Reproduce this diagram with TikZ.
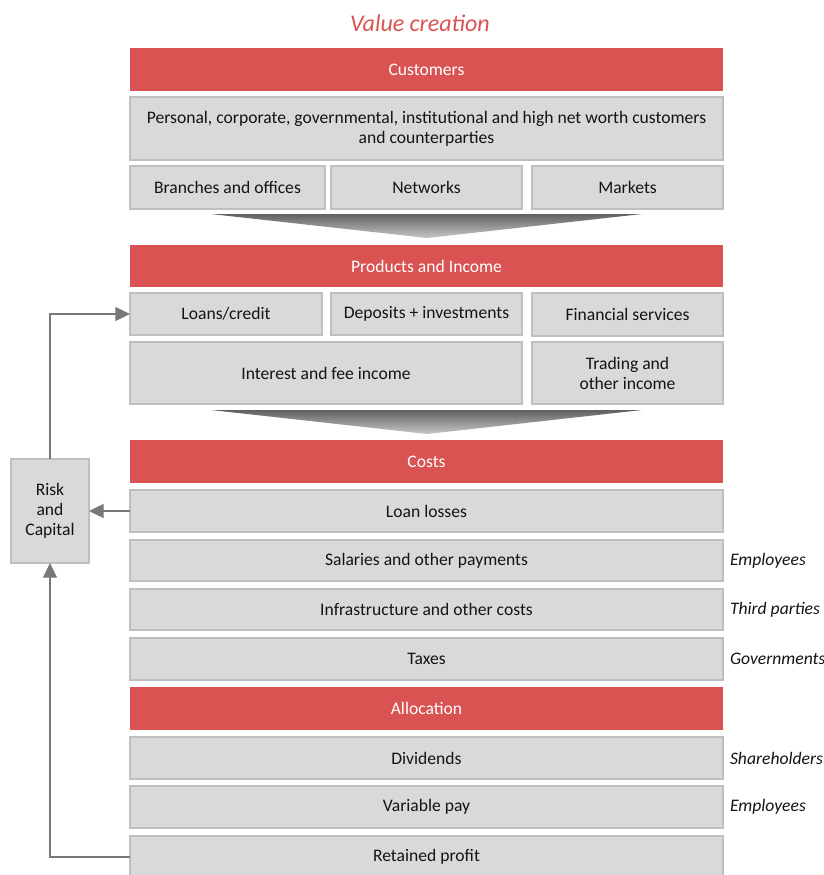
\documentclass[tikz,border=0pt]{standalone}
\usepackage{fontspec}
\setmainfont{Carlito}
\usetikzlibrary{arrows.meta}
\definecolor{barred}{RGB}{218,83,83}
\definecolor{boxgray}{RGB}{217,217,217}
\definecolor{boxline}{RGB}{191,191,191}
\definecolor{arrgray}{RGB}{120,120,120}
\definecolor{txt}{RGB}{20,20,20}
\newcommand\bx[7]{\node[#6, minimum width={(#4-#2)*0.75pt}, minimum height={(#5-#3)*0.75pt}, anchor=north west] (#1) at (#2,#3) {#7};}
\begin{document}
\begin{tikzpicture}[x=0.75pt,y=-0.75pt,
  every node/.style={font=\fontsize{13.2pt}{15pt}\selectfont, inner sep=0pt, outer sep=0pt},
  gbox/.style={fill=boxgray, draw=boxline, line width=0.9pt, text=txt, align=center},
  rbar/.style={fill=barred, draw=none, text=white, align=center},
  rlabel/.style={font=\fontsize{13.2pt}{15pt}\selectfont\itshape, anchor=west, text=txt},
  conn/.style={draw=arrgray, line width=0.9pt},
  arr/.style={conn, -{Triangle[length=11pt,width=10.5pt]}},
  funnel/.style={draw=none, top color=black!62, bottom color=black!22}]
\useasboundingbox (0,0) rectangle (824,875);
\clip (0,0) rectangle (824,875);
\node[font=\fontsize{18pt}{21pt}\selectfont\itshape, text=barred] (title) at (420,23) {Value creation};
\bx{cust}{130}{48}{723}{91}{rbar}{Customers}
\bx{pers}{130}{97}{723}{160}{gbox}{Personal, corporate, governmental, institutional and high net worth customers\\and counterparties}
\bx{branch}{130}{166}{325}{209}{gbox}{Branches and offices}
\bx{netw}{331}{166}{522}{209}{gbox}{Networks}
\bx{mark}{532}{166}{723}{209}{gbox}{Markets}
\shade[funnel] (211,214) -- (642,214) -- (427,238) -- cycle;
\bx{prod}{130}{245}{723}{287}{rbar}{Products and Income}
\bx{loans}{130}{293}{322}{335}{gbox}{Loans/credit}
\bx{depo}{331}{293}{522}{335}{gbox}{Deposits + investments}
\bx{fin}{532}{293}{723}{336}{gbox}{Financial services}
\bx{inter}{130}{342}{522}{404}{gbox}{Interest and fee income}
\bx{trad}{532}{342}{723}{404}{gbox}{Trading and\\other income}
\shade[funnel] (211,410) -- (642,410) -- (427,434) -- cycle;
\bx{costs}{130}{440}{723}{483}{rbar}{Costs}
\bx{loss}{130}{490}{723}{532}{gbox}{Loan losses}
\bx{sal}{130}{540}{723}{581}{gbox}{Salaries and other payments}
\bx{infra}{130}{589}{723}{630}{gbox}{Infrastructure and other costs}
\bx{tax}{130}{638}{723}{680}{gbox}{Taxes}
\bx{alloc}{130}{687}{723}{730}{rbar}{Allocation}
\bx{div}{130}{737}{723}{779}{gbox}{Dividends}
\bx{var}{130}{786}{723}{828}{gbox}{Variable pay}
\bx{ret}{130}{836}{723}{878}{gbox}{Retained profit}
\bx{risk}{11}{459}{89}{563}{gbox}{Risk\\and\\Capital}
\node[rlabel] (lemp) at (730,561) {Employees};
\node[rlabel] (lthird) at (730,610) {Third parties};
\node[rlabel] (lgov) at (730,659) {Governments};
\node[rlabel] (lshare) at (730,758) {Shareholders};
\node[rlabel] (lemp2) at (730,807) {Employees};
\draw[arr] (risk.north) |- (loans.west);
\draw[arr] (loss.west) -- (risk.east);
\draw[arr] (ret.west) -| (risk.south);
\end{tikzpicture}
\end{document}
